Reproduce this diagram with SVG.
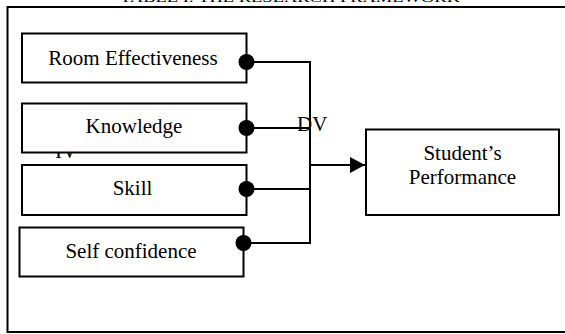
<svg xmlns="http://www.w3.org/2000/svg" width="565" height="334" viewBox="0 0 565 334">
<style>
text{font-family:"Liberation Serif","Times New Roman",serif;fill:#000}
.lbl{font-size:21px;text-anchor:middle}
.box{fill:#fff;stroke:#000;stroke-width:2}
.ln{fill:none;stroke:#000;stroke-width:2}
.dot{fill:#000}
</style>
<defs>
<marker id="arr" viewBox="0 0 15 16" refX="15" refY="8" markerWidth="15" markerHeight="16" markerUnits="userSpaceOnUse" orient="auto">
<path d="M0,0 L15,8 L0,16 Z" fill="#000"/>
</marker>
</defs>
<rect width="565" height="334" fill="#fff"/>
<text x="290" y="2" font-size="13" text-anchor="middle" textLength="340" lengthAdjust="spacingAndGlyphs">TABLE I: THE RESEARCH FRAMEWORK</text>
<rect id="frame" x="7.5" y="7" width="570" height="325" fill="none" stroke="#000" stroke-width="2"/>
<text x="55" y="158" font-size="21">IV</text>
<g id="connectors">
<path class="ln" d="M247,62 H310 V243 H243"/>
<path class="ln" d="M246,128 H310"/>
<path class="ln" d="M246,189 H310"/>
<path class="ln" d="M310,165 H365" marker-end="url(#arr)"/>
</g>
<g id="room">
<rect class="box" x="22" y="33.5" width="224.5" height="49"/>
<text class="lbl" x="133" y="65">Room Effectiveness</text>
</g>
<g id="knowledge">
<rect class="box" x="22" y="103.5" width="224.5" height="49"/>
<text class="lbl" x="134" y="133">Knowledge</text>
</g>
<g id="skill">
<rect class="box" x="22" y="165" width="224.5" height="50"/>
<text class="lbl" x="132.5" y="195">Skill</text>
</g>
<g id="selfconf">
<rect class="box" x="19.5" y="227.5" width="224" height="49"/>
<text class="lbl" x="131" y="258">Self confidence</text>
</g>
<g id="dots">
<circle class="dot" cx="246.5" cy="62" r="8"/>
<circle class="dot" cx="246.5" cy="128" r="8"/>
<circle class="dot" cx="246.5" cy="189" r="8"/>
<circle class="dot" cx="243.5" cy="243" r="8"/>
</g>
<text x="297" y="131" font-size="21">DV</text>
<g id="student">
<rect class="box" x="366" y="129.5" width="193" height="85.5"/>
<text class="lbl" x="462.5" y="160">Student’s</text>
<text class="lbl" x="462.5" y="184">Performance</text>
</g>
</svg>
